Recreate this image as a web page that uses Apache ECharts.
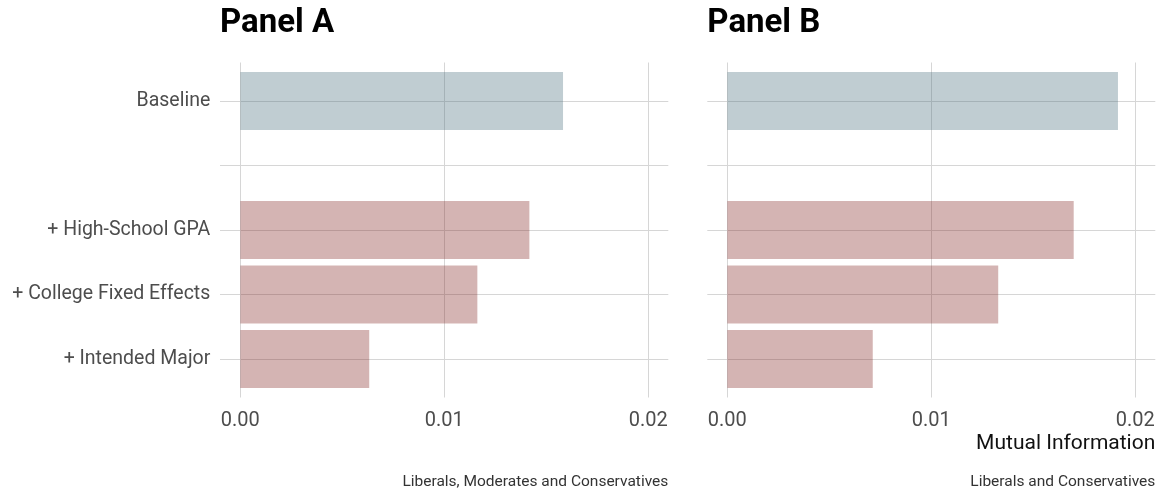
<!DOCTYPE html>
<html>
<head>
<meta charset="utf-8">
<script src="https://cdn.jsdelivr.net/npm/echarts@6/dist/echarts.min.js"></script>
<style>
  html, body { margin: 0; padding: 0; background: #ffffff; }
  #chart { width: 1161px; height: 493px; }
</style>
</head>
<body>
<div id="chart"></div>
<script>
// Model steps (the empty entry leaves a gap row under the baseline)
const categories = ['Baseline', '', '+ High-School GPA', '+ College Fixed Effects', '+ Intended Major'];
// Mutual information for each step
const panelAValues = [0.01582, null, 0.01417, 0.01162, 0.00632];
const panelBValues = [0.01915, null, 0.01698, 0.01328, 0.00713];
const panelTitles = ['Panel A', 'Panel B'];
const panelCaptions = ['Liberals, Moderates and Conservatives', 'Liberals and Conservatives'];
const xTicks = { min: 0, max: 0.02, interval: 0.01 };
const xAxisTitle = 'Mutual Information';

const FONT = 'Roboto';
const GRID_COLOR = '#d6d6d6';
const BASE_COLOR = 'rgba(75,112,126,0.35)';
const STEP_COLOR = 'rgba(132,41,38,0.35)';

// Pixel layout of the two panels
const panels = [
  { left: 220, zero: 240.3, right: 668.3 },
  { left: 707.3, zero: 727.3, right: 1155.3 }
];
const scaleWidth = 408;   // 0 .. 0.02
const bandTop = 68.75, bandHeight = 322.5;   // five category bands
const lineTop = 62.5, lineHeight = 335;      // vertical gridline extent

const grid = [], xAxis = [], yAxis = [], series = [], graphic = [];

panels.forEach((p, i) => {
  const values = i === 0 ? panelAValues : panelBValues;
  const g0 = grid.length;

  // grid 0: vertical gridlines + tick labels
  grid.push({ left: p.zero, width: scaleWidth, top: lineTop, height: lineHeight });
  xAxis.push({
    type: 'value', gridIndex: g0, min: xTicks.min, max: xTicks.max, interval: xTicks.interval,
    axisLine: { show: false }, axisTick: { show: false },
    splitLine: { show: true, lineStyle: { color: GRID_COLOR, width: 1 } },
    axisLabel: { show: true, margin: 13, color: '#4d4d4d', fontFamily: FONT, fontSize: 20,
      formatter: v => v.toFixed(2) }
  });
  yAxis.push({ type: 'value', gridIndex: g0, show: false, splitLine: { show: false } });

  // grid 1: horizontal gridlines through category centres
  grid.push({ left: p.left, width: p.right - p.left, top: bandTop + bandHeight / 10,
    height: bandHeight * 4 / 5 });
  xAxis.push({ type: 'value', gridIndex: g0 + 1, show: false, splitLine: { show: false } });
  yAxis.push({
    type: 'category', gridIndex: g0 + 1, data: categories, inverse: true, boundaryGap: false,
    axisLine: { show: false }, axisTick: { show: false }, axisLabel: { show: false },
    splitLine: { show: true, lineStyle: { color: GRID_COLOR, width: 1 } }
  });

  // grid 2: the bars
  grid.push({ left: p.zero, width: scaleWidth, top: bandTop, height: bandHeight });
  xAxis.push({ type: 'value', gridIndex: g0 + 2, min: xTicks.min, max: xTicks.max, show: false,
    splitLine: { show: false } });
  yAxis.push({
    type: 'category', gridIndex: g0 + 2, data: categories, inverse: true,
    axisLine: { show: false }, axisTick: { show: false }, splitLine: { show: false },
    axisLabel: { show: i === 0, margin: 30, color: '#4d4d4d', fontFamily: FONT, fontSize: 19.5,
      padding: [3, 0, 0, 0] }
  });
  series.push({
    type: 'bar', xAxisIndex: g0 + 2, yAxisIndex: g0 + 2, barCategoryGap: '10%',
    data: values.map((v, k) => v === null ? '-' : {
      value: v, itemStyle: { color: k === 0 ? BASE_COLOR : STEP_COLOR }
    }),
    silent: true
  });

  graphic.push({
    type: 'text', left: p.left, top: 7,
    style: { text: panelTitles[i], fontFamily: FONT, fontWeight: 'bold', fontSize: 33, fill: '#000' }
  });
  graphic.push({
    type: 'text', x: p.right, y: 474,
    style: { text: panelCaptions[i], fontFamily: FONT, fontSize: 15.5, fill: '#333',
      align: 'right', verticalAlign: 'top' }
  });
});

graphic.push({
  type: 'text', x: panels[1].right, y: 433,
  style: { text: xAxisTitle, fontFamily: FONT, fontSize: 21, fill: '#111',
    align: 'right', verticalAlign: 'top' }
});

const chart = echarts.init(document.getElementById('chart'), null, { renderer: 'canvas' });
chart.setOption({
  animation: false,
  backgroundColor: '#ffffff',
  grid, xAxis, yAxis, series, graphic
});
</script>
</body>
</html>
